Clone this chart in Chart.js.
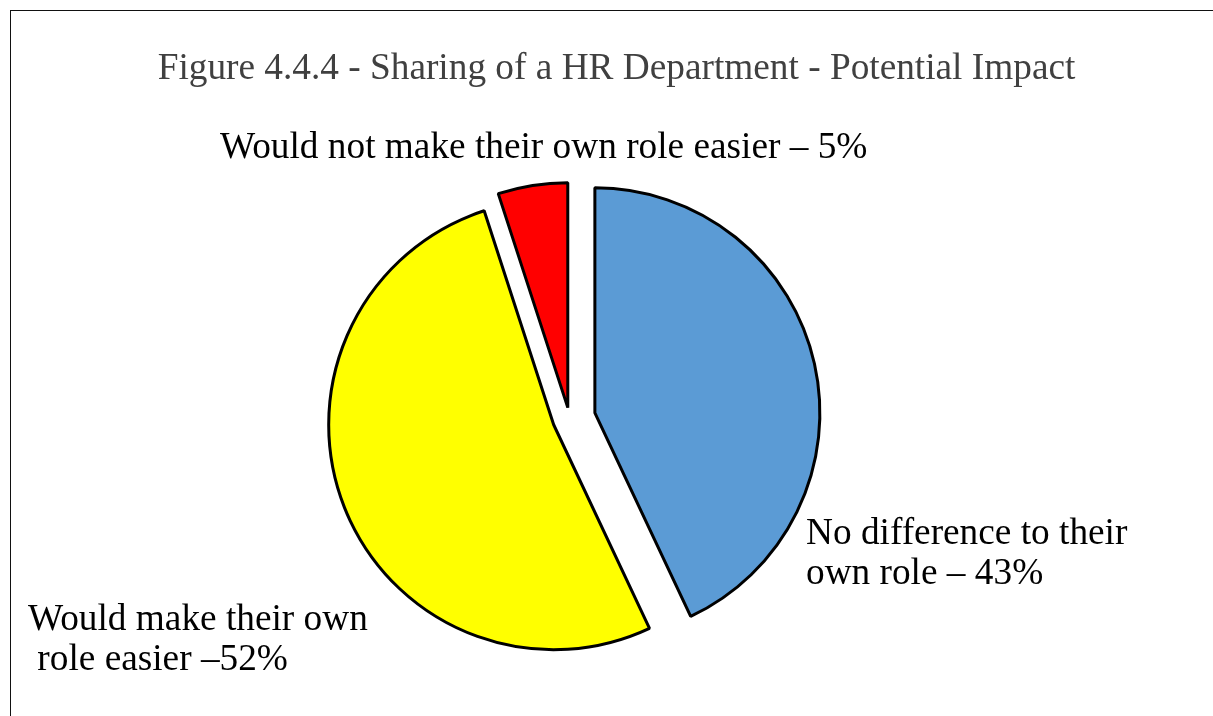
<!DOCTYPE html>
<html>
<head>
<meta charset="utf-8">
<title>Sharing of a HR Department - Potential Impact</title>
<script src="https://cdn.jsdelivr.net/npm/chart.js@4/dist/chart.umd.min.js"></script>
<style>
  html, body { margin: 0; padding: 0; background: #fff; overflow: hidden; }
  #frame {
    position: absolute; left: 10px; top: 10px;
    width: 1211px; height: 716px;
    border: 1px solid #111;
    background: #fff;
  }
  #pie { display: block; }
</style>
</head>
<body>
<div id="frame">
  <canvas id="pie" width="1211" height="716"></canvas>
</div>
<script>
// Réponses sur le partage d'un service RH (en %)
const categories = ['No difference to their own role', 'Would make their own role easier', 'Would not make their own role easier'];
const shares = [43, 52, 5];
const colors = ['#5B9BD5', '#FFFF00', '#FF0000'];

// Décalage des parts éclatées (px), le long de la bissectrice de chaque part
const explode = [26, 17, 11];

const chartTitle = 'Figure 4.4.4 - Sharing of a HR Department - Potential Impact';

// Texte des étiquettes, découpé en lignes comme sur la figure
const labelLines = [
  ['No difference to their', 'own role – ' + shares[0] + '%'],
  ['Would make their own', ' role easier –' + shares[1] + '%'],
  [categories[2] + ' – ' + shares[2] + '%']
];
// Position (gauche, ligne de base) de chaque bloc d'étiquette
const labelPos = [
  { x: 795, y: 533 },
  { x: 17, y: 619 },
  { x: 209, y: 147 }
];
const lineStep = 40;
const fontSize = 37.3;

// Déplace chaque part vers l'extérieur (comme l'éclatement d'Excel, sans grossir le rayon)
const explodePlugin = {
  id: 'explode',
  afterDatasetUpdate(chart, args) {
    args.meta.data.forEach((arc, i) => {
      const d = explode[i] || 0;
      if (!d) return;
      const mid = (arc.startAngle + arc.endAngle) / 2;
      arc.x += Math.cos(mid) * d;
      arc.y += Math.sin(mid) * d;
    });
  }
};

// Titre et étiquettes en texte sur le canvas
const textPlugin = {
  id: 'texts',
  afterDraw(chart) {
    const ctx = chart.ctx;
    ctx.save();
    ctx.textBaseline = 'alphabetic';
    ctx.font = fontSize + 'px "Liberation Serif", "Times New Roman", serif';
    ctx.fillStyle = '#404040';
    ctx.textAlign = 'center';
    ctx.fillText(chartTitle, chart.width / 2, 68);

    ctx.fillStyle = '#000';
    ctx.textAlign = 'left';
    labelLines.forEach((lines, i) => {
      lines.forEach((line, j) => {
        ctx.fillText(line, labelPos[i].x, labelPos[i].y + j * lineStep);
      });
    });
    ctx.restore();
  }
};

new Chart(document.getElementById('pie').getContext('2d'), {
  type: 'pie',
  data: {
    labels: categories,
    datasets: [{
      data: shares,
      backgroundColor: colors,
      borderColor: '#000',
      borderWidth: 3,
      radius: 225
    }]
  },
  options: {
    responsive: false,
    animation: false,
    events: [],
    layout: { padding: { left: 0, right: 94, top: 99, bottom: 0 } },
    plugins: {
      legend: { display: false },
      title: { display: false },
      tooltip: { enabled: false }
    }
  },
  plugins: [explodePlugin, textPlugin]
});
</script>
</body>
</html>
